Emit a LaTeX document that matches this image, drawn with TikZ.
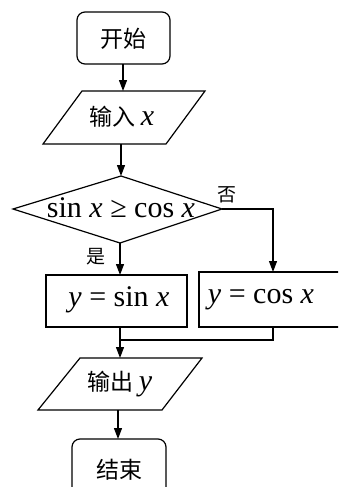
\documentclass[tikz,border=0pt]{standalone}
\usepackage{fontspec}
\setmainfont{Liberation Serif}
\newfontfamily\cjk{Noto Sans CJK SC}
\usetikzlibrary{arrows.meta}
\begin{document}
\begin{tikzpicture}[x=1pt,y=-1pt,
  line width=1.2pt,
  flow/.style={-{Triangle[length=11pt,width=8pt]}},
  outline/.style={draw,line join=miter},
  cn/.style={font=\cjk\fontsize{23}{23}\selectfont},
  mt/.style={font=\fontsize{30}{30}\selectfont},
  lab/.style={font=\cjk\fontsize{19}{19}\selectfont}]
\useasboundingbox (0,0) rectangle (338,487);
\clip (0,0) rectangle (338,487);
% start
\draw[outline,rounded corners=8pt] (77,12) rectangle (170,64);
\node[cn] (start) at (123.5,39) {开始};
\coordinate (startb) at (123,64);
% input
\draw[outline] (82,91) -- (205,91) -- (166,144) -- (43,144) -- cycle;
\node (inp) at (122,117) {\cjk\fontsize{23}{23}\selectfont 输入 \fontsize{30}{30}\selectfont\rmfamily\textit{x}};
\coordinate (inpt) at (123,91);
\coordinate (inpb) at (121,144);
% decision
\coordinate (dt) at (121,176);
\coordinate (dr) at (222,209);
\coordinate (db) at (120,243);
\coordinate (dl) at (13,209);
\draw[outline] (dt) -- (dr) -- (db) -- (dl) -- cycle;
\node[mt] (cond) at (121,208) {sin \textit{x} ≥ cos \textit{x}};
\node[lab] (no) at (227,195) {否};
\node[lab] (yes) at (96,257) {是};
% boxes
\draw[outline] (46,275) rectangle (187,327);
\node[mt] (ysin) at (119,300) {\textit{y} = sin \textit{x}};
\coordinate (lt) at (120,275);
\coordinate (lb) at (120,327);
\draw[outline] (199,272) rectangle (350,327);
\node[mt] (ycos) at (261,300) {\textit{y} = cos \textit{x}};
\coordinate (rt) at (273,272);
\coordinate (rb) at (273,327);
\coordinate (rc) at (273,209);
\coordinate (mr) at (273,340);
\coordinate (ml) at (120,340);
% output
\draw[outline] (80,358) -- (202,358) -- (162,410) -- (38,410) -- cycle;
\node (out) at (120,384) {\cjk\fontsize{23}{23}\selectfont 输出 \fontsize{30}{30}\selectfont\rmfamily\textit{y}};
\coordinate (outt) at (120,358);
\coordinate (outb) at (118,410);
% end
\draw[outline,rounded corners=8pt] (72,439) rectangle (166,510);
\node[cn] (stop) at (119,470) {结束};
\coordinate (endt) at (118,439);
% connectors
\draw[flow] (startb) -- (inpt);
\draw[flow] (inpb) -- (dt);
\draw[flow] (db) -- (lt);
\draw[flow] (dr) -- (rc) -- (rt);
\draw (lb) -- (ml) -- (mr) -- (rb);
\draw[flow] (ml) -- (outt);
\draw[flow] (outb) -- (endt);
\end{tikzpicture}
\end{document}
